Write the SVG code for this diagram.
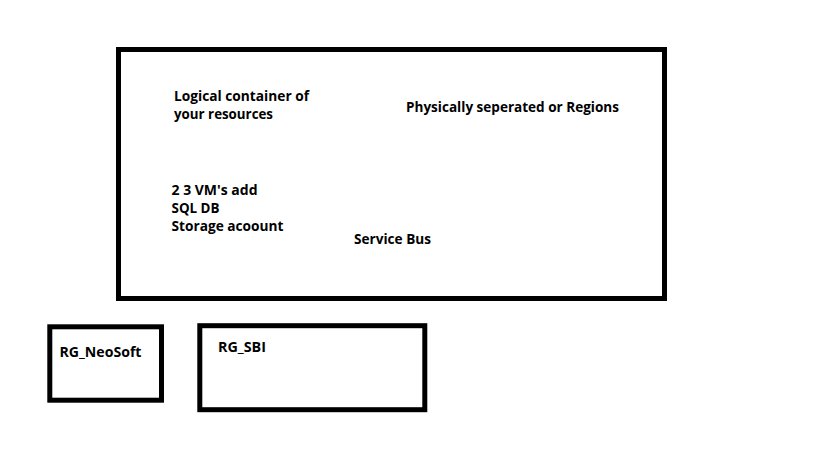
<svg xmlns="http://www.w3.org/2000/svg" width="819" height="460" viewBox="0 0 819 460">
<style>
.box{fill:none;stroke:#000;stroke-width:5}
.t{font-family:"Open Sans","Liberation Sans",sans-serif;font-weight:bold;font-size:14px;fill:#000}
</style>
<rect x="0" y="0" width="819" height="460" fill="#fff"/>
<g id="main">
<rect class="box" x="118.5" y="49.5" width="546" height="249"/>
<text class="t" x="174" y="100.5" textLength="135" lengthAdjust="spacingAndGlyphs">Logical container of</text>
<text class="t" x="174" y="118.5" textLength="99" lengthAdjust="spacingAndGlyphs">your resources</text>
<text class="t" x="406" y="111.5" textLength="213" lengthAdjust="spacingAndGlyphs">Physically seperated or Regions</text>
<text class="t" x="171.5" y="195" textLength="86" lengthAdjust="spacingAndGlyphs">2 3 VM's add</text>
<text class="t" x="171.5" y="213" textLength="48" lengthAdjust="spacingAndGlyphs">SQL DB</text>
<text class="t" x="171.5" y="231" textLength="112" lengthAdjust="spacingAndGlyphs">Storage acoount</text>
<text class="t" x="354" y="244" textLength="77" lengthAdjust="spacingAndGlyphs">Service Bus</text>
</g>
<g id="rg_neosoft">
<rect class="box" x="49.8" y="326.8" width="111.7" height="73.4"/>
<text class="t" x="59.5" y="357" textLength="82" lengthAdjust="spacingAndGlyphs">RG_NeoSoft</text>
</g>
<g id="rg_sbi">
<rect class="box" x="199.8" y="325.7" width="225" height="84"/>
<text class="t" x="218" y="352" textLength="48" lengthAdjust="spacingAndGlyphs">RG_SBI</text>
</g>
<g id="connectors"/>
</svg>
